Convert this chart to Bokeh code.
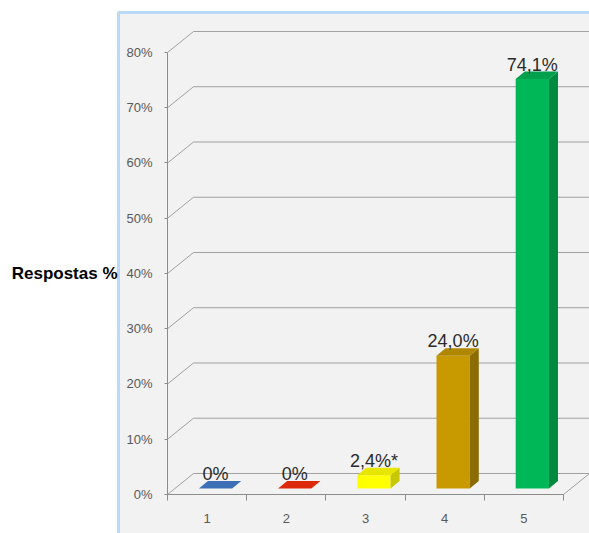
from bokeh.plotting import figure
from bokeh.models import LinearAxis, FixedTicker, Range1d, BoxAnnotation, ColumnDataSource
from bokeh.embed import file_html
from bokeh.resources import INLINE
from bokeh.core.properties import value

# ---- data ----
categories = [1, 2, 3, 4, 5]
values = [0.0, 0.0, 2.4, 24.0, 74.1]
value_labels = ["0%", "0%", "2,4%*", "24,0%", "74,1%"]
y_ticks = [0, 10, 20, 30, 40, 50, 60, 70, 80]
y_tick_labels = ["0%", "10%", "20%", "30%", "40%", "50%", "60%", "70%", "80%"]
x_tick_labels = ["1", "2", "3", "4", "5"]
front_colors = ["#3d6fb6", "#de2a0c", "#ffff00", "#c99a00", "#00b757"]
side_colors = ["#2c5590", "#a81e08", "#c8c800", "#8c6b00", "#008a3f"]
top_colors = ["#3d6fb6", "#de2a0c", "#e6e600", "#b08700", "#00a04c"]
y_title = "Respostas %"

# ---- layout / 3D depth styling (data units) ----
X0, X1 = -1.609, 5.828
Y0, Y1 = -7.06, 89.41
PANEL_LEFT, PANEL_TOP = -0.119, 87.24
WALL_DX, WALL_DY = 0.328, 3.8      # depth of the back wall
BAR_FX, BAR_FY = 0.106, 1.09       # bar front-face depth offset
BAR_DX, BAR_DY = 0.114, 1.36       # bar depth
BAR_W = 0.42

p = figure(width=589, height=533, output_backend="svg", toolbar_location=None,
           x_axis_location=None, y_axis_location=None,
           x_range=Range1d(X0, X1), y_range=Range1d(Y0, Y1),
           min_border=0)
p.grid.visible = False
p.background_fill_color = "white"
p.border_fill_color = "white"
p.outline_line_color = None

panel = BoxAnnotation(left=PANEL_LEFT, top=PANEL_TOP, right=X1 + 1, bottom=Y0 - 5,
                      fill_color="#f2f2f2", fill_alpha=1.0,
                      line_color="#b9d9f7", line_width=3, line_alpha=1.0, level="underlay")
p.add_layout(panel)

# ---- gridlines (3D back wall) ----
x_left = min(categories) - 0.5
x_right = max(categories) + 0.5
p.segment(x0=[x_left] * len(y_ticks), y0=y_ticks,
          x1=[x_left + WALL_DX] * len(y_ticks), y1=[t + WALL_DY for t in y_ticks],
          line_color="#a0a0a0", line_width=1)
p.segment(x0=[x_left + WALL_DX] * len(y_ticks), y0=[t + WALL_DY for t in y_ticks],
          x1=[X1] * len(y_ticks), y1=[t + WALL_DY for t in y_ticks],
          line_color="#a0a0a0", line_width=1)
p.segment(x0=[x_right], y0=[0], x1=[x_right + WALL_DX], y1=[WALL_DY],
          line_color="#a0a0a0", line_width=1)

# ---- bars ----
lefts = [c + BAR_FX - BAR_W / 2 for c in categories]
rights = [c + BAR_FX + BAR_W / 2 for c in categories]
tops = [v + BAR_FY for v in values]
src = ColumnDataSource(dict(left=lefts, right=rights, bottom=[BAR_FY] * len(values),
                            top=tops, color=front_colors))
p.quad(left="left", right="right", bottom="bottom", top="top", source=src,
       fill_color="color", line_color=None)

side_xs = [[r, r + BAR_DX, r + BAR_DX, r] for r in rights]
side_ys = [[BAR_FY, BAR_FY + BAR_DY, t + BAR_DY, t] for t in tops]
p.patches(xs=side_xs, ys=side_ys, fill_color=side_colors, line_color=None)

top_xs = [[l, r, r + BAR_DX, l + BAR_DX] for l, r in zip(lefts, rights)]
top_ys = [[t, t, t + BAR_DY, t + BAR_DY] for t in tops]
p.patches(xs=top_xs, ys=top_ys, fill_color=top_colors, line_color=None)

# ---- value labels ----
p.text(x=[c + BAR_FX for c in categories], y=[t + BAR_DY for t in tops], text=value_labels,
       text_align="center", text_baseline="alphabetic", y_offset=-7,
       text_font=value("Liberation Sans"), text_font_size="18px", text_color="#2b2b2b")

# ---- y title ----
p.text(x=[x_left], y=[y_ticks[len(y_ticks) // 2]], text=[y_title], x_offset=-50,
       text_align="right", text_baseline="middle", text_font=value("Liberation Sans"),
       text_font_style="bold", text_font_size="17px", text_color="black")

# ---- axes ----
yaxis = LinearAxis(fixed_location=x_left, bounds=(min(y_ticks), max(y_ticks)),
                   ticker=FixedTicker(ticks=y_ticks, minor_ticks=[]),
                   major_label_overrides={t: s for t, s in zip(y_ticks, y_tick_labels)})
yaxis.axis_line_color = "#8c8c8c"
yaxis.major_tick_line_color = "#8c8c8c"
yaxis.major_tick_out = 3
yaxis.major_tick_in = 0
yaxis.minor_tick_line_color = None
yaxis.major_label_standoff = 12
yaxis.major_label_text_font = "Liberation Sans"
yaxis.major_label_text_font_size = "13px"
yaxis.major_label_text_color = "#595959"
p.add_layout(yaxis, "left")

xaxis = LinearAxis(fixed_location=0, bounds=(x_left, x_right),
                   ticker=FixedTicker(ticks=categories,
                                      minor_ticks=[c - 0.5 for c in categories] + [x_right]),
                   major_label_overrides={c: s for c, s in zip(categories, x_tick_labels)})
xaxis.axis_line_color = "#8c8c8c"
xaxis.major_tick_line_color = None
xaxis.major_tick_out = 0
xaxis.major_tick_in = 0
xaxis.minor_tick_line_color = "#8c8c8c"
xaxis.minor_tick_out = 6
xaxis.minor_tick_in = 0
xaxis.major_label_standoff = 14
xaxis.major_label_text_font = "Liberation Sans"
xaxis.major_label_text_font_size = "13px"
xaxis.major_label_text_color = "#595959"
p.add_layout(xaxis, "below")

open("out.html", "w").write(file_html(p, INLINE))
